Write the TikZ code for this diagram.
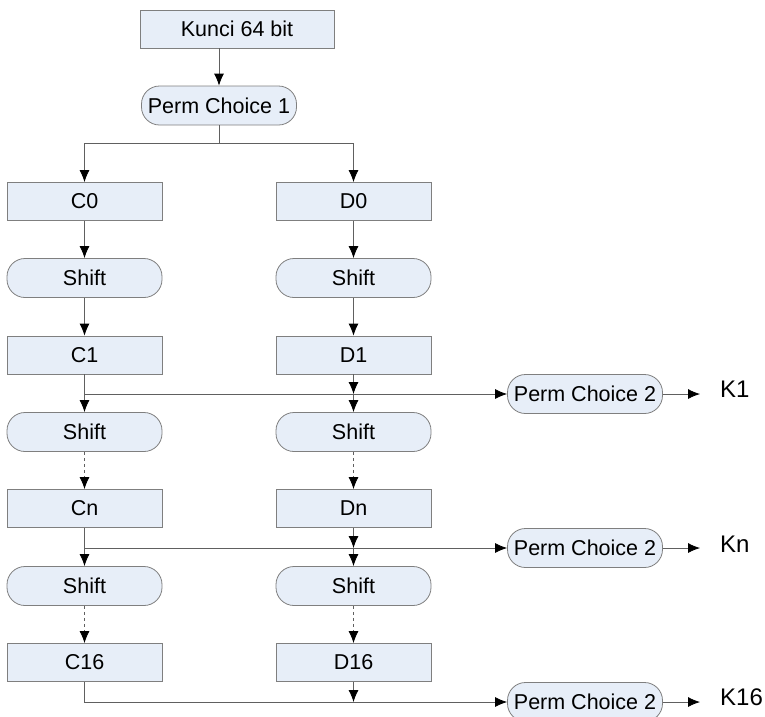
\documentclass[tikz,border=0pt]{standalone}
\usepackage{fontspec}
\setmainfont{Liberation Sans}
\usetikzlibrary{arrows.meta}

\definecolor{boxfill}{HTML}{E7EEF8}
\definecolor{boxline}{HTML}{7F7F7F}
\definecolor{wire}{HTML}{606060}

\begin{document}
\begin{tikzpicture}[
        x=1pt, y=-1pt,        % one unit per pixel, y downwards
        >={Latex[length=12pt,width=10pt,color=black]},
        line/.style={draw=wire, line width=0.8pt},
        every node/.style={font=\fontsize{21.5}{25}\selectfont},
        block/.style={draw=boxline, line width=0.8pt, fill=boxfill, rectangle, minimum width=155pt, minimum height=38pt, inner sep=0pt},
        pill/.style={block, rounded corners=18pt, minimum height=39pt},
        keylabel/.style={anchor=west, inner sep=0pt, inner xsep=20pt, font=\fontsize{24}{28}\selectfont}
    ]
    \useasboundingbox (0,0) rectangle (765,716);

    % Input key and first permutation
    \node[block, minimum width=194pt] (key) at (237,29) {Kunci 64 bit};
    \node[pill] (pc1) at (219,105.5) {Perm Choice 1};

    % Left (C) and right (D) halves
    \node[block] (c0) at (84.5,201.5) {C0};
    \node[block] (d0) at (353.5,201.5) {D0};
    \node[pill] (sc1) at (84.5,278) {Shift};
    \node[pill] (sd1) at (353.5,278) {Shift};
    \node[block] (c1) at (84.5,355) {C1};
    \node[block] (d1) at (353.5,355) {D1};
    \node[pill] (sc2) at (84.5,432) {Shift};
    \node[pill] (sd2) at (353.5,432) {Shift};
    \node[block] (cn) at (84.5,508.5) {Cn};
    \node[block] (dn) at (353.5,508.5) {Dn};
    \node[pill] (sc3) at (84.5,586) {Shift};
    \node[pill] (sd3) at (353.5,586) {Shift};
    \node[block] (c16) at (84.5,662.5) {C16};
    \node[block] (d16) at (353.5,662.5) {D16};

    % Second permutation for each subkey
    \node[pill] (pk1) at (585,394) {Perm Choice 2};
    \node[pill] (pkn) at (585,548) {Perm Choice 2};
    \node[pill] (pk16) at (585,702) {Perm Choice 2};
    \node[keylabel] (k1) at (700,389) {K1};
    \node[keylabel] (kn) at (700,544) {Kn};
    \node[keylabel] (k16) at (700,697) {K16};

    % Junction points
    \coordinate (split) at (219,143);
    \coordinate (j1) at (84.5,394);
    \coordinate (dj1) at (353.5,394);
    \coordinate (jn) at (84.5,548);
    \coordinate (djn) at (353.5,548);
    \coordinate (dj16) at (353.5,702);

    % Top part
    \draw[line, ->] (key.south -| pc1) -- (pc1);
    \draw[line] (pc1) -- (split);
    \draw[line, ->] (split) -| (c0);
    \draw[line, ->] (split) -| (d0);
    \draw[line, ->] (c0) -- (sc1);
    \draw[line, ->] (d0) -- (sd1);
    \draw[line, ->] (sc1) -- (c1);
    \draw[line, ->] (sd1) -- (d1);

    % Round 1
    \draw[line, ->] (c1) -- (sc2);
    \draw[line, ->] (j1) -- (pk1);
    \draw[line, ->] (d1) -- (dj1);
    \draw[line, ->] (dj1) -- (sd2);
    \draw[line, ->] (pk1) -- (pk1 -| k1.west);
    \draw[line, ->, dashed] (sc2) -- (cn);
    \draw[line, ->, dashed] (sd2) -- (dn);

    % Round n
    \draw[line, ->] (cn) -- (sc3);
    \draw[line, ->] (jn) -- (pkn);
    \draw[line, ->] (dn) -- (djn);
    \draw[line, ->] (djn) -- (sd3);
    \draw[line, ->] (pkn) -- (pkn -| kn.west);
    \draw[line, ->, dashed] (sc3) -- (c16);
    \draw[line, ->, dashed] (sd3) -- (d16);

    % Round 16
    \draw[line, ->] (c16) |- (pk16);
    \draw[line, ->] (d16) -- (dj16);
    \draw[line, ->] (pk16) -- (pk16 -| k16.west);
\end{tikzpicture}
\end{document}
